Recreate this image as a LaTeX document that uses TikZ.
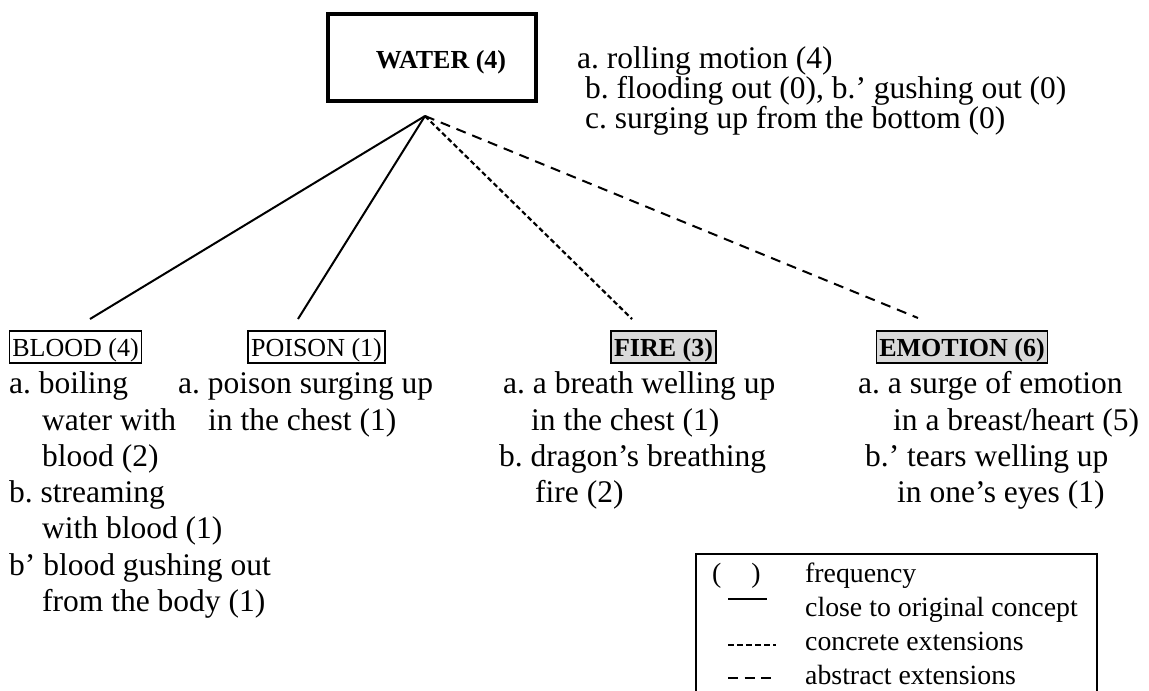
\documentclass[tikz,border=0pt]{standalone}
\usepackage{fontspec}
\setmainfont{Liberation Serif}
\frenchspacing
\begin{document}
\begin{tikzpicture}[x=1pt,y=-1pt,
  body/.style={font=\fontsize{31.5}{36}\selectfont, inner sep=0pt, anchor=base west},
  lab/.style={draw, line width=1.4pt, font=\fontsize{26}{30}\selectfont, inner xsep=3pt, inner ysep=3pt, text height=22pt, text depth=4pt},
  hl/.style={lab, fill=black!15, font=\fontsize{26}{30}\selectfont\bfseries},
  leg/.style={font=\fontsize{27.8}{32}\selectfont, inner sep=0pt, anchor=base west},
  solidlink/.style={line width=2pt},
  concretelink/.style={line width=2.2pt, dash pattern=on 5pt off 3pt},
  abstractlink/.style={line width=2pt, dash pattern=on 10pt off 7pt},
]
\useasboundingbox (0,0) rectangle (1149,691);

% root box
\node[draw, line width=4pt, minimum width=208pt, minimum height=87pt, inner sep=0pt,
      text height=21pt, text depth=0pt,
      font=\fontsize{26}{30}\selectfont\bfseries] (water) at (432,57.5) {\hspace*{18pt}WATER (4)};

% root description
\node[body] (wa) at (577,68) {a. rolling motion (4)};
\node[body] (wb) at (585,98) {b. flooding out (0), b.’ gushing out (0)};
\node[body] (wc) at (585,128) {c. surging up from the bottom (0)};

% category labels
\node[lab] (blood) at (75.5,347) {BLOOD (4)};
\node[lab] (poison) at (316.5,347) {POISON (1)};
\node[hl] (fire) at (663.5,347) {FIRE (3)};
\node[hl] (emotion) at (962,347) {EMOTION (6)};

% connectors
\coordinate (apex) at (425,116);
\coordinate (bloodend) at (90,319);
\coordinate (poisonend) at (298,319);
\coordinate (fireend) at (632,319);
\coordinate (emotionend) at (918,318);
\draw[solidlink] (apex) -- (bloodend);
\draw[solidlink] (apex) -- (poisonend);
\draw[concretelink] (apex) -- (fireend);
\draw[abstractlink] (apex) -- (emotionend);

% blood texts
\node[body] (b1) at (9,393) {a. boiling};
\node[body] (b2) at (42,430) {water with};
\node[body] (b3) at (42,466) {blood (2)};
\node[body] (b4) at (9,502) {b. streaming};
\node[body] (b5) at (42,538) {with blood (1)};
\node[body] (b6) at (9,575) {b’ blood gushing out};
\node[body] (b7) at (42,611) {from the body (1)};

% poison texts
\node[body] (p1) at (178,393) {a. poison surging up};
\node[body] (p2) at (208,430) {in the chest (1)};

% fire texts
\node[body] (f1) at (503,393) {a. a breath welling up};
\node[body] (f2) at (531,430) {in the chest (1)};
\node[body] (f3) at (499,466) {b. dragon’s breathing};
\node[body] (f4) at (535,502) {fire (2)};

% emotion texts
\node[body] (e1) at (858,393) {a. a surge of emotion};
\node[body] (e2) at (893,430) {in a breast/heart (5)};
\node[body] (e3) at (865,466) {b.’ tears welling up};
\node[body] (e4) at (897,502) {in one’s eyes (1)};

% legend
\draw[line width=1.6pt] (696,691) -- (696,554) -- (1097,554) -- (1097,691);
\node[leg] (lg0) at (712,582) {(\hspace*{30pt})};
\node[leg] (lg1) at (805,582) {frequency};
\node[leg] (lg2) at (805,616) {close to original concept};
\node[leg] (lg3) at (805,650) {concrete extensions};
\node[leg] (lg4) at (805,684) {abstract extensions};
\draw[solidlink] (728,599) -- (767,599);
\draw[line width=2pt, dash pattern=on 6pt off 3pt] (728,645) -- (776,645);
\draw[line width=2pt, dash pattern=on 10pt off 6.5pt] (728,678) -- (776,678);
\end{tikzpicture}
\end{document}
